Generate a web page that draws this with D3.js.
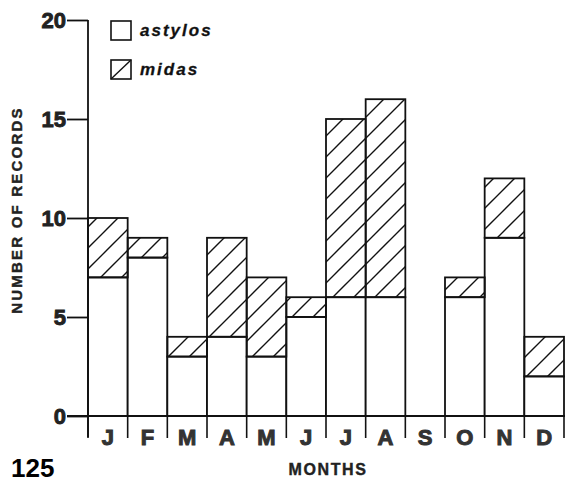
<!DOCTYPE html>
<html>
<head>
<meta charset="utf-8">
<script src="https://cdn.jsdelivr.net/npm/d3@7"></script>
<style>
  body { margin: 0; background: #fff; }
  text { font-family: "Liberation Sans", Arial, Helvetica, sans-serif; font-weight: bold; }
</style>
</head>
<body>
<svg width="565" height="485"></svg>
<script>
// donnees (nombre de records par mois)
const months = ["J", "F", "M", "A", "M", "J", "J", "A", "S", "O", "N", "D"];
const astylos = [7, 8, 3, 4, 3, 5, 6, 6, 0, 6, 9, 2];
const midas = [3, 1, 1, 5, 4, 1, 9, 10, 0, 1, 3, 2];
const yTicks = [0, 5, 10, 15, 20];
const seriesNames = ["astylos", "midas"];

const svg = d3.select("svg");

// hachures pour midas
const defs = svg.append("defs");
defs.append("pattern")
    .attr("id", "hatch")
    .attr("patternUnits", "userSpaceOnUse")
    .attr("width", 21)
    .attr("height", 21)
  .append("path")
    .attr("d", "M-5,5 L5,-5 M0,21 L21,0 M16,26 L26,16")
    .attr("stroke", "#111")
    .attr("stroke-width", 1.4);

// index pour pas confondre les deux J / M / A
const data = months.map((m, i) => ({ key: i, label: m, astylos: astylos[i], midas: midas[i] }));

const x = d3.scaleBand()
    .domain(data.map(d => d.key))
    .range([88, 564])
    .padding(0);

const y = d3.scaleLinear()
    .domain([0, 20])
    .range([416, 20]);

const stack = d3.stack().keys(seriesNames);
const layers = stack(data);

// barres
const g = svg.append("g");
layers.forEach(layer => {
    g.selectAll(null)
        .data(layer.filter(d => d[1] - d[0] > 0))
        .enter()
        .append("rect")
        .attr("x", d => x(d.data.key))
        .attr("y", d => y(d[1]))
        .attr("width", x.bandwidth())
        .attr("height", d => y(d[0]) - y(d[1]))
        .attr("fill", layer.key === "midas" ? "url(#hatch)" : "#fff")
        .attr("stroke", "#111")
        .attr("stroke-width", 1.8);
});

// axe Y
const yAxis = svg.append("g")
    .attr("transform", "translate(88,0)")
    .call(d3.axisLeft(y).tickValues(yTicks).tickSize(21).tickPadding(1));
yAxis.select(".domain").remove();
yAxis.selectAll("line").attr("stroke", "#111").attr("stroke-width", 1.8);
yAxis.selectAll("text")
    .style("font-size", "22px")
    .style("font-family", "Liberation Sans, Arial, sans-serif")
    .style("font-weight", "bold")
    .attr("fill", "#222")
    .attr("stroke", "#222")
    .attr("stroke-width", 0.9);

svg.append("line")
    .attr("x1", 88).attr("x2", 88)
    .attr("y1", y(20)).attr("y2", y(0) + 21)
    .attr("stroke", "#111").attr("stroke-width", 1.8);

// axe X : ligne du zero + petits traits entre les mois
svg.append("line")
    .attr("x1", 67).attr("x2", 565)
    .attr("y1", y(0)).attr("y2", y(0))
    .attr("stroke", "#111").attr("stroke-width", 2);

const bounds = data.map(d => x(d.key)).concat([x.range()[1]]);
svg.selectAll(".sep")
    .data(bounds)
    .enter()
    .append("line")
    .attr("x1", d => d).attr("x2", d => d)
    .attr("y1", y(0)).attr("y2", y(0) + 22)
    .attr("stroke", "#111").attr("stroke-width", 1.6);

svg.selectAll(".mlabel")
    .data(data)
    .enter()
    .append("text")
    .attr("x", d => x(d.key) + x.bandwidth() / 2)
    .attr("y", 445)
    .attr("text-anchor", "middle")
    .style("font-size", "22px")
    .attr("fill", "#333")
    .attr("stroke", "#333")
    .attr("stroke-width", 1)
    .text(d => d.label);

// titres des axes
svg.append("text")
    .attr("text-anchor", "middle")
    .attr("transform", "translate(22,210)rotate(-90)")
    .style("font-size", "15px")
    .style("letter-spacing", "2.2px")
    .attr("fill", "#222")
    .attr("stroke", "#222")
    .attr("stroke-width", 0.4)
    .text("NUMBER OF RECORDS");

svg.append("text")
    .attr("x", 328)
    .attr("y", 475)
    .attr("text-anchor", "middle")
    .style("font-size", "16px")
    .style("letter-spacing", "1.6px")
    .attr("fill", "#222")
    .attr("stroke", "#222")
    .attr("stroke-width", 0.4)
    .text("MONTHS");

svg.append("text")
    .attr("x", 11)
    .attr("y", 477)
    .style("font-size", "26px")
    .attr("fill", "#000")
    .text("125");

// legende
const legend = svg.append("g").attr("transform", "translate(111,21)");
seriesNames.forEach((s, i) => {
    const row = legend.append("g").attr("transform", "translate(0," + (i * 39) + ")");
    row.append("rect")
        .attr("width", 20).attr("height", 19)
        .attr("fill", "#fff")
        .attr("stroke", "#111").attr("stroke-width", 1.6);
    if (s === "midas") {
        row.append("line")
            .attr("x1", 0).attr("y1", 19).attr("x2", 20).attr("y2", 0)
            .attr("stroke", "#111").attr("stroke-width", 1.4);
    }
    row.append("text")
        .attr("x", 29)
        .attr("y", 15)
        .style("font-size", "17px")
        .style("font-style", "italic")
        .style("letter-spacing", "2px")
        .attr("fill", "#111")
        .attr("stroke", "#111")
        .attr("stroke-width", 0.3)
        .text(s);
});
</script>
</body>
</html>
